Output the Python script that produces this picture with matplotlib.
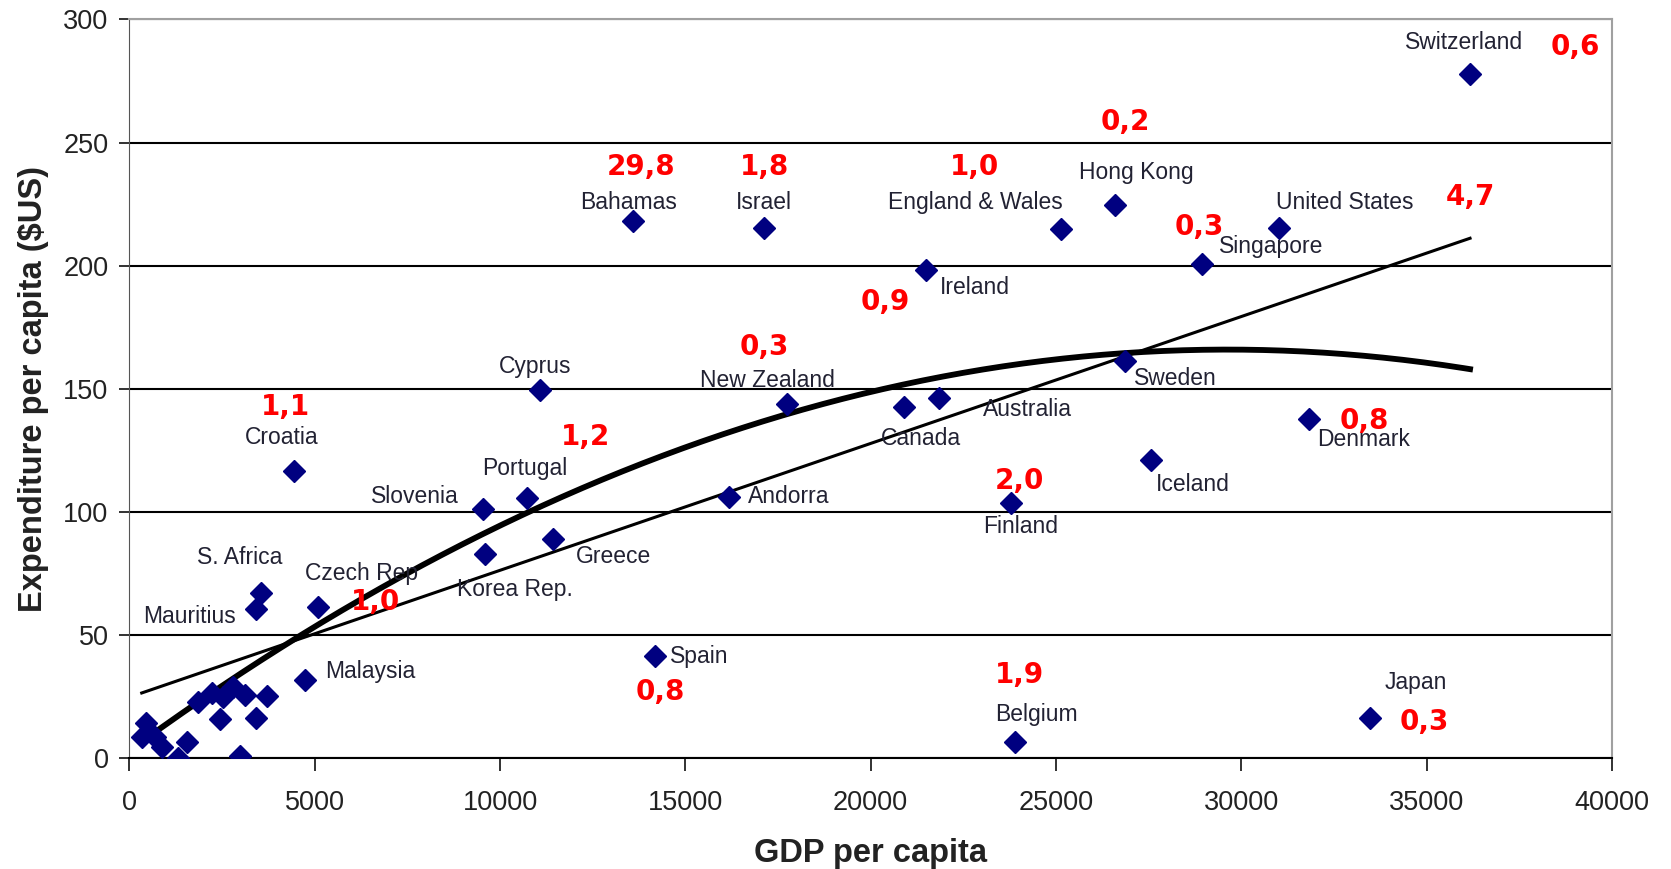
import numpy as np
import matplotlib.pyplot as plt

plt.rcParams['font.family'] = ['Liberation Sans', 'DejaVu Sans']

# labelled countries: GDP per capita, expenditure per capita
countries = ['Switzerland', 'Bahamas', 'Israel', 'England & Wales', 'Hong Kong',
             'United States', 'Singapore', 'Ireland', 'Cyprus', 'New Zealand',
             'Canada', 'Australia', 'Sweden', 'Denmark', 'Iceland', 'Croatia',
             'Finland', 'Andorra', 'Slovenia', 'Portugal', 'Greece', 'Korea Rep.',
             'S. Africa', 'Mauritius', 'Czech Rep', 'Spain', 'Malaysia',
             'Belgium', 'Japan']
gdp = [36170, 13600, 17110, 25130, 26600, 31020, 28950, 21480, 11070, 17740,
       20900, 21850, 26850, 31830, 27550, 4430, 23780, 16190, 9545, 10720,
       11440, 9600, 3540, 3420, 5090, 14180, 4745, 23890, 33470]
spend = [277.7, 218.0, 215.3, 214.8, 224.8, 215.3, 200.6, 198.4, 149.6, 144.0,
         142.7, 146.1, 161.2, 137.9, 121.0, 116.7, 103.7, 105.9, 101.2, 105.5,
         89.0, 83.0, 67.0, 60.5, 61.4, 41.5, 31.6, 6.5, 16.4]

# unlabelled low-income countries
gdp_other = [451, 334, 693, 874, 1322, 1549, 1862, 2223, 2536, 2806, 3122,
             2447, 3418, 2987, 3707]
spend_other = [14.5, 8.8, 8.8, 4.5, 0.0, 6.7, 23.0, 26.4, 25.0, 29.1, 25.7,
               15.8, 16.2, 0.9, 25.3]

# label positions (data coords, text centre)
label_pos = [(36000, 290.5), (13480, 225.6), (17110, 225.6), (22830, 225.6),
             (27170, 237.7), (32780, 225.6), (30800, 207.9), (22800, 191.1),
             (10950, 159.1), (17220, 153.5), (21360, 129.7), (24240, 141.8),
             (28210, 154.3), (33300, 129.3), (28700, 111.1), (4110, 130.1),
             (24040, 94.2), (17800, 106.3), (7710, 106.3), (10670, 117.6),
             (13050, 82.1), (10410, 68.7), (2990, 81.7), (1610, 57.5),
             (6270, 75.2), (15380, 41.5), (6500, 35.4), (24470, 17.7),
             (34700, 30.7)]

# red ratio annotations
ratios = ['29,8', '1,8', '1,0', '0,2', '0,6', '4,7', '0,3', '0,9', '0,3', '1,1',
          '1,2', '2,0', '0,8', '1,0', '0,8', '1,9', '0,3']
ratio_pos = [(13800, 239.9), (17140, 239.9), (22800, 239.9), (26860, 258.5),
             (39000, 288.9), (36170, 228.0), (28870, 215.7), (20390, 185.4),
             (17140, 166.9), (4200, 142.6), (12310, 130.5), (24010, 112.4),
             (33320, 137.0), (6640, 63.5), (14320, 26.8), (24010, 33.7),
             (34930, 14.7)]

fig = plt.figure(figsize=(16.71, 8.69), dpi=100)
ax = fig.add_axes([0.0774, 0.1274, 0.8873, 0.8502])

all_x = np.array(gdp + gdp_other, dtype=float)
all_y = np.array(spend + spend_other, dtype=float)

ax.plot(all_x, all_y, 'D', color='#000080', ms=11, zorder=4)

# linear and 2nd order trend lines fitted to all points
xs = np.linspace(all_x.min(), all_x.max(), 200)
lin = np.polyfit(all_x, all_y, 1)
quad = np.polyfit(all_x, all_y, 2)
ax.plot(xs, np.polyval(lin, xs), color='black', lw=2.2, zorder=3)
ax.plot(xs, np.polyval(quad, xs), color='black', lw=4.2, zorder=3)

for name, (tx, ty) in zip(countries, label_pos):
    ax.text(tx, ty, name, fontsize=16.5, color='#222233', ha='center', va='center', zorder=5)

for r, (tx, ty) in zip(ratios, ratio_pos):
    ax.text(tx, ty, r, fontsize=20, color='red', fontweight='bold',
            family='DejaVu Sans', ha='center', va='center', zorder=6)

ax.set_xlim(0, 40000)
ax.set_ylim(0, 300)
ax.set_xticks(np.arange(0, 40001, 5000))
ax.set_yticks(np.arange(0, 301, 50))
ax.yaxis.grid(True, color='black', lw=1.5)
ax.set_axisbelow(True)
ax.tick_params(axis='both', labelsize=19.5, colors='#222222', direction='out', length=9, width=1.3)
ax.tick_params(axis='x', pad=14)
ax.tick_params(axis='y', length=7, pad=8)

for s in ['top', 'right']:
    ax.spines[s].set_color('#a0a0a0')
    ax.spines[s].set_linewidth(1.5)
ax.spines['left'].set_color('#555555')
ax.spines['bottom'].set_color('black')
ax.spines['bottom'].set_linewidth(1.5)

ax.set_xlabel('GDP per capita', fontsize=23.5, fontweight='bold', color='#222222', labelpad=16)
ax.set_ylabel('Expenditure per capita ($US)', fontsize=23.5, fontweight='bold', color='#222222', labelpad=10)

fig.savefig('out.png', dpi=100)
